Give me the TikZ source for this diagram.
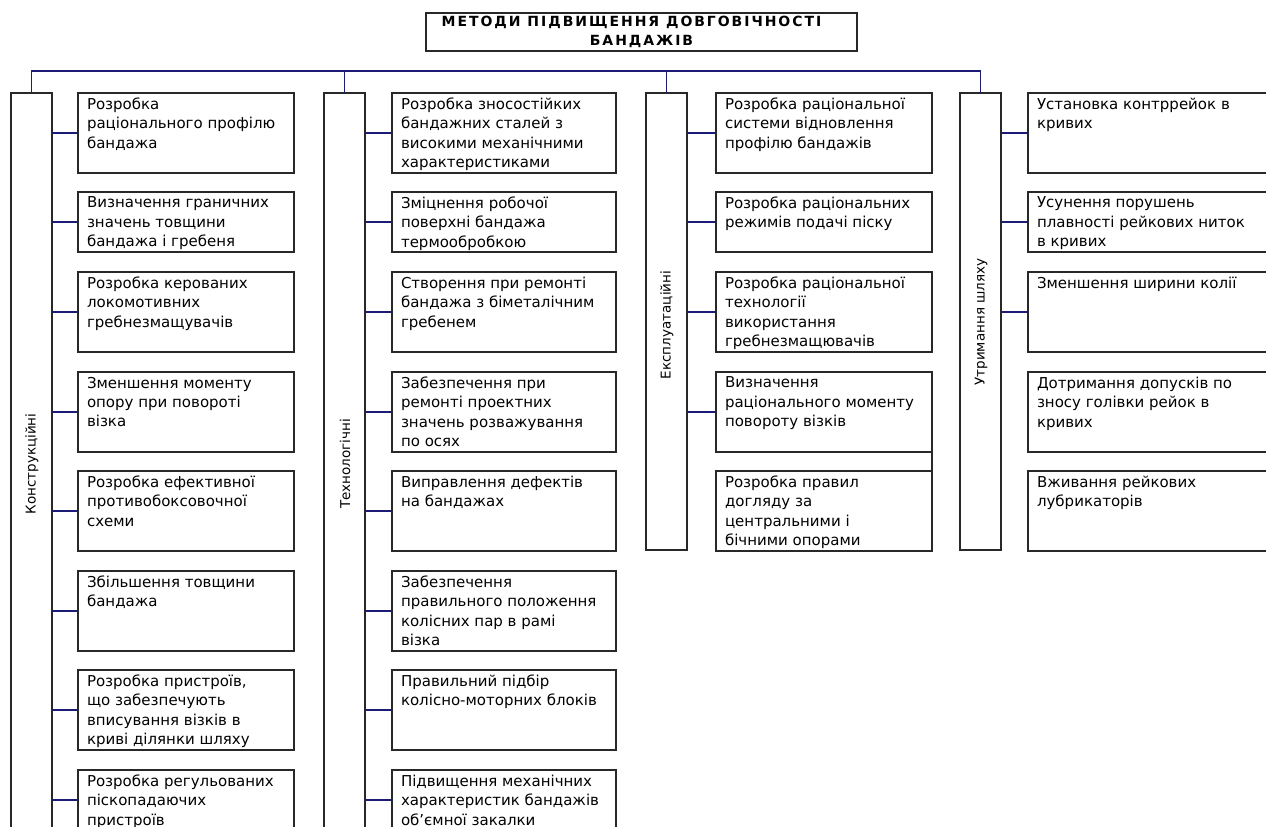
\documentclass[tikz,border=0pt]{standalone}
\usepackage{fontspec}
\setmainfont{DejaVu Sans}
\usetikzlibrary{positioning}

\definecolor{busblue}{RGB}{28,28,118}
\definecolor{boxgray}{RGB}{40,40,40}

% text of one measure, top aligned in a box of fixed size
\newcommand{\itemtext}[3]{\parbox[b][\dimexpr#2-10pt\relax][t]{#1}{\raggedright #3}}

\begin{document}
\begin{tikzpicture}[x=1pt, y=-1pt,
    every node/.style={font=\fontsize{15}{19.3}\selectfont},
    colbox/.style={draw=boxgray, line width=1.8pt, minimum width=41pt, anchor=north, inner sep=0pt, outer sep=0pt},
    item/.style={draw=boxgray, line width=1.8pt, anchor=north west, inner xsep=9pt, inner ysep=5pt, outer sep=0pt},
    collabel/.style={rotate=90, font=\fontsize{13.5}{15}\selectfont},
    bus/.style={draw=busblue, line width=1.9pt},
  ]
  \useasboundingbox (0,0) rectangle (1266,827);

  % title
  \node[draw=boxgray, line width=1.8pt, minimum width=431pt, minimum height=38pt, inner ysep=1pt,
        align=center, font=\fontsize{14}{19}\selectfont\bfseries\addfontfeatures{LetterSpace=14}]
        (title) at (641.5,32) {МЕТОДИ ПІДВИЩЕННЯ ДОВГОВІЧНОСТІ\hspace*{20pt}\\БАНДАЖІВ};

  % the four groups
  \node[colbox, minimum height=820pt] (kon) at (31.5,93)  {};
  \node[colbox, minimum height=820pt] (teh) at (344.5,93) {};
  \node[colbox, minimum height=457pt] (eks) at (666.5,93) {};
  \node[colbox, minimum height=457pt] (utr) at (980.5,93) {};

  \node[collabel] (konl) at (32,464)  {Конструкційні};
  \node[collabel] (tehl) at (345,464) {Технологічні};
  \node[collabel] (eksl) at (667,325) {Експлуатаційні};
  \node[collabel] (utrl) at (981,322) {Утримання шляху};

  \coordinate (busl) at (31,71);
  \draw[bus] (kon.north) -- (kon.north |- busl) -- (utr.north |- busl) -- (utr.north);
  \draw[bus] (teh.north) -- (teh.north |- busl);
  \draw[bus] (eks.north) -- (eks.north |- busl);

  % Конструкційні
  \node[item] (k1) at (78,93)  {\itemtext{198pt}{80pt}{Розробка\\раціонального профілю\\бандажа}};
  \node[item] (k2) at (78,192) {\itemtext{198pt}{60pt}{Визначення граничних\\значень товщини\\бандажа і гребеня}};
  \node[item] (k3) at (78,272) {\itemtext{198pt}{80pt}{Розробка керованих\\локомотивних\\гребнезмащувачів}};
  \node[item] (k4) at (78,372) {\itemtext{198pt}{80pt}{Зменшення моменту\\опору при повороті\\візка}};
  \node[item] (k5) at (78,471) {\itemtext{198pt}{80pt}{Розробка ефективної\\противобоксовочної\\схеми}};
  \node[item] (k6) at (78,571) {\itemtext{198pt}{80pt}{Збільшення товщини\\бандажа}};
  \node[item] (k7) at (78,670) {\itemtext{198pt}{80pt}{Розробка пристроїв,\\що забезпечують\\вписування візків в\\криві ділянки шляху}};
  \node[item] (k8) at (78,770) {\itemtext{198pt}{60pt}{Розробка регульованих\\піскопадаючих\\пристроїв}};

  % Технологічні
  \node[item] (t1) at (392,93)  {\itemtext{206pt}{80pt}{Розробка зносостійких\\бандажних сталей з\\високими механічними\\характеристиками}};
  \node[item] (t2) at (392,192) {\itemtext{206pt}{60pt}{Зміцнення робочої\\поверхні бандажа\\термообробкою}};
  \node[item] (t3) at (392,272) {\itemtext{206pt}{80pt}{Створення при ремонті\\бандажа з біметалічним\\гребенем}};
  \node[item] (t4) at (392,372) {\itemtext{206pt}{80pt}{Забезпечення при\\ремонті проектних\\значень розважування\\по осях}};
  \node[item] (t5) at (392,471) {\itemtext{206pt}{80pt}{Виправлення дефектів\\на бандажах}};
  \node[item] (t6) at (392,571) {\itemtext{206pt}{80pt}{Забезпечення\\правильного положення\\колісних пар в рамі\\візка}};
  \node[item] (t7) at (392,670) {\itemtext{206pt}{80pt}{Правильний підбір\\колісно-моторних блоків}};
  \node[item] (t8) at (392,770) {\itemtext{206pt}{60pt}{Підвищення механічних\\характеристик бандажів\\об’ємної закалки}};

  % Експлуатаційні
  \node[item] (e1) at (716,93)  {\itemtext{198pt}{80pt}{Розробка раціональної\\системи відновлення\\профілю бандажів}};
  \node[item] (e2) at (716,192) {\itemtext{198pt}{60pt}{Розробка раціональних\\режимів подачі піску}};
  \node[item] (e3) at (716,272) {\itemtext{198pt}{80pt}{Розробка раціональної\\технології\\використання\\гребнезмащювачів}};
  \node[item] (e4) at (716,372) {\itemtext{198pt}{80pt}{Визначення\\раціонального моменту\\повороту візків}};
  \node[item] (e5) at (716,471) {\itemtext{198pt}{80pt}{Розробка правил\\догляду за\\центральними і\\бічними опорами}};
  \draw[draw=boxgray, line width=1.8pt] (e4.south east) -- (e5.north east);

  % Утримання шляху
  \node[item] (u1) at (1028,93)  {\itemtext{250pt}{80pt}{Установка контррейок в\\кривих}};
  \node[item] (u2) at (1028,192) {\itemtext{250pt}{60pt}{Усунення порушень\\плавності рейкових ниток\\в кривих}};
  \node[item] (u3) at (1028,272) {\itemtext{250pt}{80pt}{Зменшення ширини колії}};
  \node[item] (u4) at (1028,372) {\itemtext{250pt}{80pt}{Дотримання допусків по\\зносу голівки рейок в\\кривих}};
  \node[item] (u5) at (1028,471) {\itemtext{250pt}{80pt}{Вживання рейкових\\лубрикаторів}};

  % links
  \foreach \i in {1,...,8} {
    \draw[bus] (k\i.west) -- (k\i.west -| kon.east);
    \draw[bus] (t\i.west) -- (t\i.west -| teh.east);
  }
  \foreach \i in {1,...,4}
    \draw[bus] (e\i.west) -- (e\i.west -| eks.east);
  \foreach \i in {1,...,3}
    \draw[bus] (u\i.west) -- (u\i.west -| utr.east);
\end{tikzpicture}
\end{document}
